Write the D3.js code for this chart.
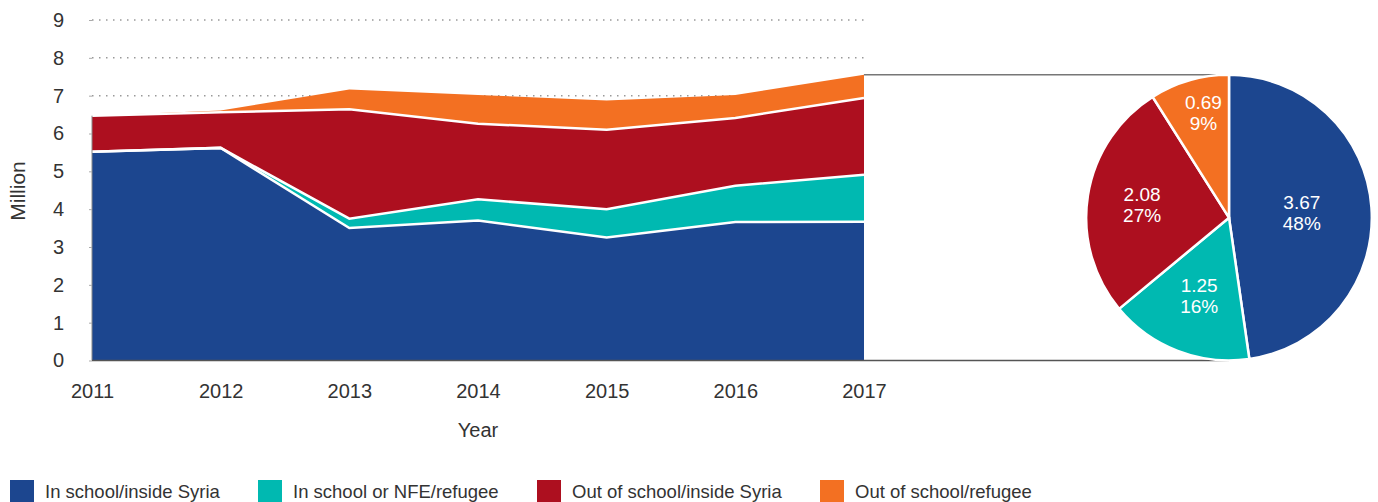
<!DOCTYPE html>
<html>
<head>
<meta charset="utf-8">
<script src="https://cdn.jsdelivr.net/npm/d3@7/dist/d3.min.js"></script>
<style>
  body { margin: 0; background: #fff; }
  svg text { font-family: "Liberation Sans", Arial, sans-serif; }
</style>
</head>
<body>
<svg id="chart" width="1378" height="502"></svg>
<script>
// years and stacked values (million)
const years = [2011, 2012, 2013, 2014, 2015, 2016, 2017];
const inSchoolSyria   = [5.52, 5.62, 3.50, 3.70, 3.25, 3.66, 3.67];
const inSchoolRefugee = [0.00, 0.00, 0.25, 0.56, 0.75, 0.96, 1.24];
const outSchoolSyria  = [0.95, 0.94, 2.89, 2.00, 2.10, 1.79, 2.03];
const outSchoolRefugee = [0.00, 0.05, 0.52, 0.76, 0.77, 0.61, 0.61];

const seriesNames = ['In school/inside Syria', 'In school or NFE/refugee', 'Out of school/inside Syria', 'Out of school/refugee'];
const colors = ['#1c468f', '#00b9b1', '#ad0f1f', '#f37022'];

// 2017 breakdown shown in the pie
const pieValues = [3.67, 1.25, 2.08, 0.69];
const pieLabels = ['48%', '16%', '27%', '9%'];

const yTicks = [0, 1, 2, 3, 4, 5, 6, 7, 8, 9];
const gridTicks = [7, 8, 9];

const svg = d3.select('#chart');
const margin = { left: 92, right: 864, top: 20, bottom: 360.5 };
const textColor = '#333';

const x = d3.scaleLinear().domain([2011, 2017]).range([margin.left, margin.right]);
const y = d3.scaleLinear().domain([0, 9]).range([margin.bottom, margin.top]);

// dotted grid lines
svg.append('g').selectAll('line')
    .data(gridTicks)
    .join('line')
    .attr('x1', margin.left).attr('x2', margin.right + 3)
    .attr('y1', d => y(d)).attr('y2', d => y(d))
    .attr('stroke', '#999').attr('stroke-width', 1.5)
    .attr('stroke-dasharray', '1.5,5.5');

// stacked areas
const table = years.map((yr, i) => ({
    year: yr,
    s0: inSchoolSyria[i],
    s1: inSchoolRefugee[i],
    s2: outSchoolSyria[i],
    s3: outSchoolRefugee[i]
}));
const stack = d3.stack().keys(['s0', 's1', 's2', 's3']);
const layers = stack(table);

const area = d3.area()
    .x(d => x(d.data.year))
    .y0(d => y(d[0]))
    .y1(d => y(d[1]));

svg.append('g').selectAll('path')
    .data(layers)
    .join('path')
    .attr('d', area)
    .attr('fill', (d, i) => colors[i]);

// white separators along the top of the lower layers
const topLine = d3.line()
    .x(d => x(d.data.year))
    .y(d => y(d[1]));
svg.append('g').selectAll('path')
    .data(layers.slice(0, 3))
    .join('path')
    .attr('d', topLine)
    .attr('fill', 'none')
    .attr('stroke', '#fff')
    .attr('stroke-width', 2.5);

// left edge
svg.append('line')
    .attr('x1', margin.left).attr('x2', margin.left)
    .attr('y1', y(0)).attr('y2', y(layers[3][0][1]))
    .attr('stroke', '#888').attr('stroke-width', 1);

// y axis
const yAxis = d3.axisLeft(y).tickValues(yTicks).tickSize(3).tickPadding(25);
const yg = svg.append('g')
    .attr('transform', `translate(${margin.left},0)`)
    .call(yAxis);
yg.select('.domain').remove();
yg.selectAll('.tick line').attr('stroke', '#aaa');
yg.selectAll('text').style('font-size', '20px').style('fill', textColor);

// x axis
const xAxis = d3.axisBottom(x).tickValues(years).tickFormat(d3.format('d')).tickSize(0).tickPadding(23);
const xg = svg.append('g')
    .attr('transform', `translate(0,${margin.bottom})`)
    .call(xAxis);
xg.select('.domain').remove();
xg.selectAll('text').style('font-size', '20px').style('fill', textColor);

// axis titles
svg.append('text')
    .attr('x', x(2014)).attr('y', 437)
    .attr('text-anchor', 'middle')
    .style('font-size', '20px').style('fill', textColor)
    .text('Year');
svg.append('text')
    .attr('transform', `translate(25,${191}) rotate(-90)`)
    .attr('text-anchor', 'middle')
    .style('font-size', '21px').style('fill', textColor)
    .text('Million');

// pie box
const total2017 = layers[3][6][1];
const boxTop = y(total2017);
const boxBottom = y(0);
const r = (boxBottom - boxTop) / 2;
const cx = 1229;
const cy = (boxTop + boxBottom) / 2;

svg.append('line')
    .attr('x1', margin.left).attr('x2', cx)
    .attr('y1', boxBottom).attr('y2', boxBottom)
    .attr('stroke', '#555').attr('stroke-width', 1.5);
svg.append('line')
    .attr('x1', margin.right).attr('x2', cx)
    .attr('y1', boxTop).attr('y2', boxTop)
    .attr('stroke', '#777').attr('stroke-width', 1.5);

// pie
const pie = d3.pie().sort(null)(pieValues);
const arc = d3.arc().innerRadius(0).outerRadius(r);
const pg = svg.append('g').attr('transform', `translate(${cx},${cy})`);
pg.selectAll('path')
    .data(pie)
    .join('path')
    .attr('d', arc)
    .attr('fill', (d, i) => colors[i])
    .attr('stroke', '#fff')
    .attr('stroke-width', 2.5);

const labelRadius = [73, 83, 88, 110];
pie.forEach((d, i) => {
    const a = (d.startAngle + d.endAngle) / 2;
    const lx = Math.sin(a) * labelRadius[i] + (i === 3 ? 5 : 0);
    const ly = -Math.cos(a) * labelRadius[i];
    const t = pg.append('text')
        .attr('text-anchor', 'middle')
        .style('font-size', '19px')
        .style('fill', '#fff');
    t.append('tspan').attr('x', lx).attr('y', ly - 3).text(pieValues[i].toFixed(2));
    t.append('tspan').attr('x', lx).attr('y', ly + 18).text(pieLabels[i]);
});

// legend
const legendX = [10, 258, 537, 820];
const lg = svg.append('g');
seriesNames.forEach((name, i) => {
    lg.append('rect')
        .attr('x', legendX[i]).attr('y', 480)
        .attr('width', 24).attr('height', 24)
        .attr('fill', colors[i]);
    lg.append('text')
        .attr('x', legendX[i] + 35).attr('y', 498)
        .style('font-size', '18.5px').style('fill', textColor)
        .text(name);
});
</script>
</body>
</html>
